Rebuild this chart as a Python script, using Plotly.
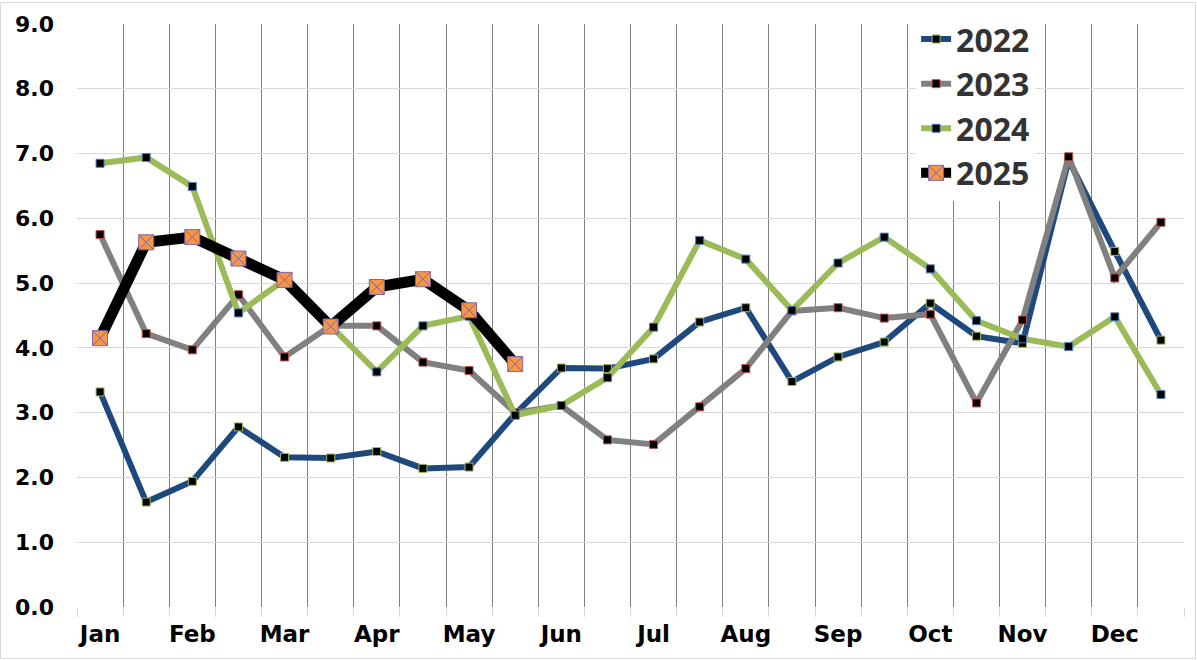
import plotly.graph_objects as go

# ---- data -------------------------------------------------------------
months = ["Jan", "Feb", "Mar", "Apr", "May", "Jun",
          "Jul", "Aug", "Sep", "Oct", "Nov", "Dec"]

years = ["2022", "2023", "2024", "2025"]

y2022 = [3.32, 1.62, 1.94, 2.78, 2.31, 2.30, 2.40, 2.14, 2.16, 2.98, 3.69, 3.68,
         3.83, 4.40, 4.62, 3.48, 3.86, 4.09, 4.69, 4.18, 4.07, 6.90, 5.49, 4.12]
y2023 = [5.75, 4.22, 3.97, 4.82, 3.86, 4.34, 4.34, 3.78, 3.65, 3.00, 3.11, 2.58,
         2.51, 3.09, 3.68, 4.57, 4.62, 4.46, 4.52, 3.15, 4.43, 6.95, 5.08, 5.94]
y2024 = [6.85, 6.94, 6.49, 4.54, 5.05, 4.33, 3.63, 4.34, 4.49, 2.96, 3.11, 3.54,
         4.32, 5.66, 5.37, 4.58, 5.31, 5.71, 5.22, 4.42, 4.14, 4.02, 4.48, 3.28]
y2025 = [4.15, 5.63, 5.71, 5.38, 5.05, 4.33, 4.94, 5.06, 4.58, 3.75]

y_ticks = [0, 1, 2, 3, 4, 5, 6, 7, 8, 9]

# ---- styles -----------------------------------------------------------
W, H = 1197, 660
ML, MR, MT, MB = 77, 13, 22, 53
PW, PH = W - ML - MR, H - MT - MB

n_periods = 2 * len(months)

styles = {
    "2022": dict(line="#1F497D", lw=6, sym="square", fill="#000000", edge="#9BBB59", ms=8),
    "2023": dict(line="#808080", lw=6, sym="square", fill="#000000", edge="#C0504D", ms=8),
    "2024": dict(line="#9BBB59", lw=6, sym="square", fill="#000000", edge="#4F81BD", ms=8),
    "2025": dict(line="#000000", lw=11, sym="square-x", fill="#F79646", edge="#8064A2", ms=15),
}
values = {"2022": y2022, "2023": y2023, "2024": y2024, "2025": y2025}

fig = go.Figure()
for yr in years:
    s = styles[yr]
    vals = values[yr]
    fig.add_trace(go.Scatter(
        x=list(range(len(vals))), y=vals, name=yr, mode="lines+markers",
        line=dict(color=s["line"], width=s["lw"]),
        marker=dict(symbol=s["sym"], size=s["ms"], color=s["fill"],
                    line=dict(color=s["edge"], width=1)),
        hoverinfo="x+y+name",
    ))

y_font = dict(family="DejaVu Sans", size=22, color="#000000", weight="bold")
x_font = dict(family="DejaVu Sans", size=23, color="#000000", weight="bold")

fig.update_layout(
    width=W, height=H,
    margin=dict(l=ML, r=MR, t=MT, b=MB, pad=0),
    paper_bgcolor="white", plot_bgcolor="white",
    showlegend=True,
    legend=dict(x=0.758, y=1.021, xanchor="left", yanchor="top",
                bgcolor="white", borderwidth=0, tracegroupgap=0,
                font=dict(family="Noto Sans", size=32, color="#333333", weight="bold")),
    xaxis=dict(range=[-0.5, n_periods - 0.5],
               tickmode="array",
               tickvals=list(range(0, n_periods, 2)), ticktext=months,
               showgrid=False, zeroline=False, showline=False, ticks="",
               ticklabelstandoff=11,
               tickfont=x_font,
               minor=dict(tickmode="array",
                          tickvals=[i - 0.5 for i in range(n_periods + 1)],
                          showgrid=True, gridcolor="#808080", gridwidth=1,
                          ticks="outside", ticklen=9, tickcolor="#d9d9d9", tickwidth=1)),
    yaxis=dict(range=[0, 9], tickmode="array", tickvals=y_ticks,
               ticktext=[f"{v:.1f}" for v in y_ticks],
               showgrid=True, gridcolor="#d9d9d9", gridwidth=1,
               zeroline=False, showline=False, ticks="",
               ticklabelstandoff=22, tickfont=y_font),
    shapes=[dict(type="rect", xref="paper", yref="paper", layer="above",
                 x0=-(ML - 0.5) / PW, x1=1 + (MR - 1.5) / PW,
                 y0=-(MB - 1.5) / PH, y1=1 + (MT - 0.5) / PH,
                 line=dict(color="#d9d9d9", width=1), fillcolor="rgba(0,0,0,0)")],
)

fig.write_html(
    "out.html",
    config={"displayModeBar": False},
    post_script="document.body.style.margin='0';document.body.style.overflow='hidden';",
)
